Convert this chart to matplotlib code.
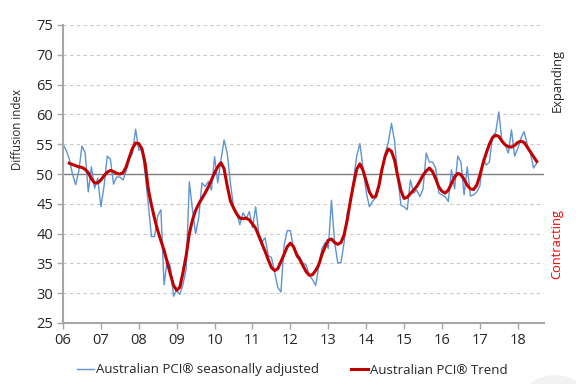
import numpy as np
import matplotlib
matplotlib.use("Agg")
import matplotlib.pyplot as plt
from matplotlib.patches import Circle

# Monthly data, Jan 2006 .. Jul 2018
pci_sa = [
    # 2006
    55.0, 54.0, 52.5, 50.0, 48.2, 50.5, 54.7, 53.6, 47.0, 51.2, 47.6, 49.3,
    # 2007
    44.5, 48.0, 53.0, 52.5, 48.3, 49.5, 49.5, 49.0, 50.5, 52.5, 53.5, 57.5,
    # 2008
    54.0, 54.2, 50.0, 45.0, 39.5, 39.5, 43.0, 44.0, 31.4, 35.6, 34.5, 29.5,
    # 2009
    30.5, 29.8, 31.5, 34.0, 48.7, 44.0, 40.0, 42.8, 48.5, 47.9, 48.7, 47.3,
    # 2010
    52.9, 48.5, 52.3, 55.7, 53.5, 48.5, 44.5, 43.4, 41.5, 43.5, 42.5, 43.7,
    # 2011
    41.0, 44.5, 40.0, 38.6, 39.3, 36.3, 36.0, 33.6, 31.0, 30.2, 38.0, 40.5,
    # 2012
    40.5, 37.5, 36.0, 36.1, 35.0, 34.7, 33.0, 32.3, 31.3, 34.5, 37.5, 38.5,
    # 2013
    37.5, 45.6, 38.5, 35.1, 35.1, 38.5, 43.5, 45.0, 49.0, 53.0, 55.1, 51.0,
    # 2014
    47.0, 44.5, 45.4, 46.0, 47.5, 50.5, 53.5, 55.3, 58.5, 55.5, 49.5, 44.8,
    # 2015
    44.5, 44.0, 49.0, 46.8, 47.3, 46.2, 47.5, 53.5, 52.0, 52.0, 51.0, 46.8,
    # 2016
    46.5, 46.2, 45.4, 50.7, 47.5, 53.0, 52.0, 46.5, 51.2, 46.3, 46.5, 47.0,
    # 2017
    48.0, 52.5, 51.5, 52.0, 56.3, 57.0, 60.4, 55.4, 54.9, 53.5, 57.4, 53.0,
    # 2018
    54.3, 56.0, 57.1, 55.0, 53.5, 51.0, 51.8,
]

pci_trend = [
    # 2006
    np.nan, np.nan, 51.8, 51.6, 51.4, 51.2, 51.1, 50.8, 50.2, 49.2, 48.5, 48.5,
    # 2007
    49.0, 49.7, 50.3, 50.6, 50.4, 50.1, 50.0, 50.2, 51.2, 52.8, 54.3, 55.2,
    # 2008
    55.1, 54.2, 51.8, 47.5, 44.8, 42.5, 40.5, 38.8, 37.2, 35.2, 33.2, 31.3,
    # 2009
    30.5, 31.0, 33.5, 36.3, 40.0, 42.3, 43.9, 45.0, 45.9, 46.8, 47.8, 49.0,
    # 2010
    50.2, 51.2, 51.9, 50.9, 48.0, 45.5, 44.3, 43.3, 42.6, 42.5, 42.6, 42.3,
    # 2011
    41.6, 40.9, 39.6, 38.3, 37.0, 35.6, 34.3, 33.8, 34.1, 35.3, 36.5, 37.8,
    # 2012
    38.4, 37.8, 36.5, 35.6, 34.6, 33.6, 33.0, 33.1, 33.8, 34.8, 36.5, 37.8,
    # 2013
    38.9, 39.1, 38.5, 38.2, 38.5, 39.8, 42.3, 45.5, 48.3, 50.8, 51.7, 50.6,
    # 2014
    48.8, 47.0, 46.1, 46.2, 48.0, 50.8, 53.0, 54.2, 53.8, 52.3, 49.6, 47.2,
    # 2015
    45.9, 46.1, 46.7, 47.3, 47.9, 48.8, 49.8, 50.5, 51.0, 50.4, 49.2, 47.8,
    # 2016
    47.1, 46.8, 47.3, 48.4, 49.5, 50.1, 49.9, 49.1, 48.1, 47.5, 47.4, 48.1,
    # 2017
    49.8, 51.8, 53.5, 55.0, 56.1, 56.5, 56.3, 55.5, 54.9, 54.6, 54.5, 54.8,
    # 2018
    55.3, 55.5, 55.3, 54.5, 53.7, 52.9, 52.1,
]

year_labels = ["06", "07", "08", "09", "10", "11", "12", "13", "14", "15", "16", "17", "18"]
y_ticks = [25, 30, 35, 40, 45, 50, 55, 60, 65, 70, 75]

plt.rcParams['font.family'] = ['Open Sans', 'DejaVu Sans']

fig = plt.figure(figsize=(5.76, 3.84), dpi=100)
ax = fig.add_axes([63/576, 1-323/384, (544-63)/576, (323-25)/384])

months = np.arange(len(pci_sa))
ax.set_xlim(0, 152.3)
ax.set_ylim(25, 75)

for v in y_ticks[1:]:
    if v != 50:
        ax.axhline(v, color='#c8c8c8', lw=0.8, ls=(0, (3, 3)), zorder=0)
ax.axhline(50, color='#7f7f7f', lw=1.0, zorder=1)

l1, = ax.plot(months, pci_sa, color='#5f93d3', lw=1.0, zorder=2,
              label='Australian PCI® seasonally adjusted')
l2, = ax.plot(months, pci_trend, color='#c00000', lw=2.2, zorder=3,
              label='Australian PCI® Trend')

ax.set_xticks(np.arange(len(year_labels)) * 12)
ax.set_xticklabels(year_labels)
ax.set_yticks(y_ticks)

for s in ['top', 'right']:
    ax.spines[s].set_visible(False)
for s in ['left', 'bottom']:
    ax.spines[s].set_color('#a6a6a6')
    ax.spines[s].set_linewidth(1.5)
ax.tick_params(axis='both', direction='out', length=4, width=1.0, color='#a6a6a6',
               labelsize=10.5, labelcolor='#262626', pad=3)

fig.text(18/576, 1-129/384, 'Diffusion index', rotation=90, ha='center', va='center',
         fontsize=8.3, color='#262626')
fig.text(557/576, 1-80/384, 'Expanding', rotation=90, ha='center', va='center',
         fontsize=9.3, color='#262626')
fig.text(557/576, 1-244/384, 'Contracting', rotation=90, ha='center', va='center',
         fontsize=9.3, color='#ff0000')

fig.legend(handles=[l1, l2], loc='center', bbox_to_anchor=(292/576, 1-370/384),
           ncol=2, frameon=False, fontsize=9.5, handlelength=1.3, handletextpad=0.15,
           columnspacing=2.4, labelcolor='#262626')

fig.patches.append(Circle((555/576, 1-395/384), 0.05, transform=fig.transFigure,
                          color='#f2f2f2', zorder=0))

fig.savefig('out.png', dpi=100)
